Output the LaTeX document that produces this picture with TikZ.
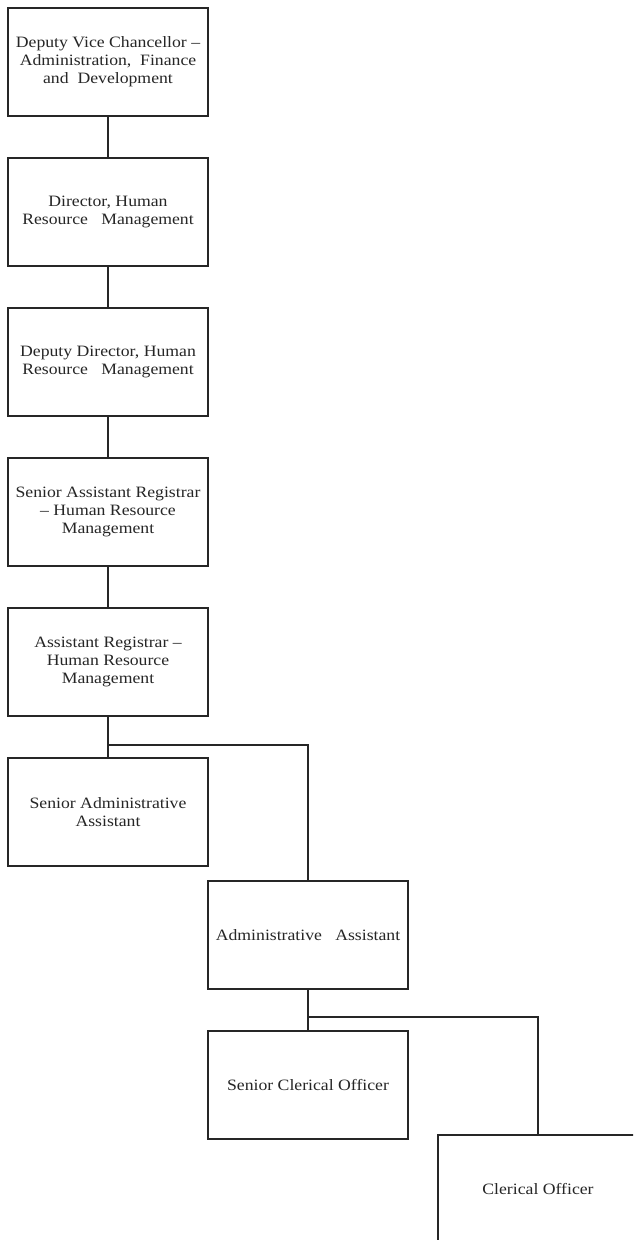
\documentclass[tikz,border=0pt]{standalone}
\usepackage{fontspec}
\setmainfont{Liberation Serif}[FakeStretch=1.12]
\begin{document}
\begin{tikzpicture}[x=1pt,y=-1pt,
  box/.style={draw=black!85, line width=1.1pt, fill=white, minimum width=200pt, minimum height=108pt,
    align=center, inner sep=2pt, font=\fontsize{15.8}{18}\selectfont, text=black!85},
  link/.style={draw=black!85, line width=1.3pt}]
\useasboundingbox (0,0) rectangle (633,1240);
\clip (0,0) rectangle (633,1240);
\node[box] (b1) at (108,62) {Deputy Vice Chancellor –\\Administration,\ \ Finance\\and\ \ Development};
\node[box] (b2) at (108,212) {Director, Human\\Resource\ \ \ Management};
\node[box] (b3) at (108,362) {Deputy Director, Human\\Resource\ \ \ Management};
\node[box] (b4) at (108,512) {Senior Assistant Registrar\\– Human Resource\\Management};
\node[box] (b5) at (108,662) {Assistant Registrar –\\Human Resource\\Management};
\node[box] (b6) at (108,812) {Senior Administrative\\Assistant};
\node[box] (b7) at (308,935) {Administrative\ \ \ Assistant};
\node[box] (b8) at (308,1085) {Senior Clerical Officer};
\node[box] (b9) at (538,1189) {Clerical Officer};
\coordinate (j1) at (108,745);
\coordinate (j2) at (308,1017);
\draw[link] (b1.south) -- (b2.north);
\draw[link] (b2.south) -- (b3.north);
\draw[link] (b3.south) -- (b4.north);
\draw[link] (b4.south) -- (b5.north);
\draw[link] (b5.south) -- (b6.north);
\draw[link] (j1) -| (b7.north);
\draw[link] (b7.south) -- (b8.north);
\draw[link] (j2) -| (b9.north);
\end{tikzpicture}
\end{document}
